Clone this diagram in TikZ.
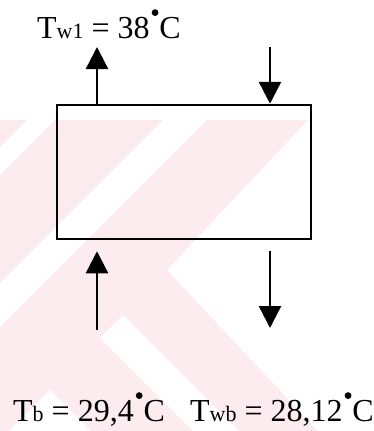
\documentclass[tikz,border=0pt]{standalone}
\usepackage{fontspec}
\setmainfont{Liberation Serif}
\usetikzlibrary{arrows.meta}
\definecolor{wm}{RGB}{253,236,239}
\newcommand\degdot{\kern2pt\raisebox{22pt}{\tikz\fill (0,0) circle (3.4pt);}\kern1pt}
\newcommand\sm[1]{{\fontsize{22}{22}\selectfont #1}}
\begin{document}
\begin{tikzpicture}[x=1pt,y=-1pt,
  lbl/.style={anchor=base west, inner sep=0pt, font=\fontsize{32}{36}\selectfont},
  unit/.style={draw, line width=2.5pt, minimum width=254pt, minimum height=134pt, inner sep=0pt},
  arr/.style={line width=2.4pt, -{Triangle[width=22pt,length=22pt]}}]
\useasboundingbox (0,0) rectangle (373,431);
% faint watermark
\begin{scope}
  \clip (0,120) -- (308,120) -- (167,270) -- (318,431) -- (0,431) -- cycle;
  \fill[wm] (0,120) rectangle (373,431);
  \fill[white] (27,120) -- (55,120) -- (0,175) -- (0,147) -- cycle;
  \fill[white] (163,120) -- (207,120) -- (0,327) -- (0,283) -- cycle;
  \fill[white] (123,315) -- (239,431) -- (193,431) -- (100,338) -- cycle;
  \fill[white] (50,390) -- (91,431) -- (9,431) -- cycle;
\end{scope}
% unit
\node[unit] (box) at (184,172) {};
% stream ends
\coordinate (tl) at (97,47);
\coordinate (tr) at (270,47);
\coordinate (bl) at (97,330);
\coordinate (br) at (270,328);
\draw[arr] (tl |- box.north) -- (tl);
\draw[arr] (tr) -- (tr |- box.north);
\draw[arr, shorten >=11pt] (bl) -- (bl |- box.south);
\draw[arr, shorten <=11pt] (br |- box.south) -- (br);
% labels
\node[lbl] (t1) at (37,38) {T\sm{w1} = 38\degdot C};
\node[lbl] (t2) at (13,421) {T\sm{b} = 29,4\degdot C};
\node[lbl] (t3) at (190,421) {T\sm{wb} = 28,12\degdot C};
\end{tikzpicture}
\end{document}
